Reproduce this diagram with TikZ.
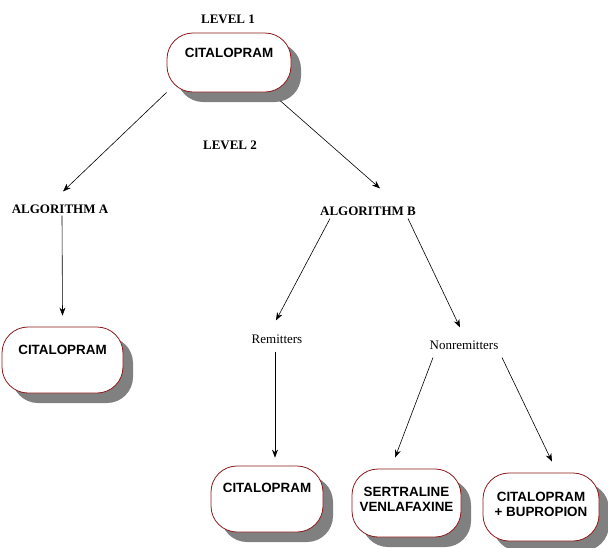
\documentclass[tikz,border=0pt]{standalone}
\usepackage{fontspec}
\setmainfont{Liberation Serif}
\newfontfamily\boxfont{Liberation Sans}
\usetikzlibrary{calc,shadows,arrows.meta}
\definecolor{boxred}{HTML}{8B1A1A}
\definecolor{shadowgray}{HTML}{808080}
\tikzset{
  box/.style={draw=boxred, line width=0.8pt, fill=white, rounded corners=26pt,
    inner sep=0pt,
    drop shadow={shadow xshift=10pt, shadow yshift=-10pt, fill=shadowgray, opacity=1}},
  lbl/.style={inner sep=0pt, font=\fontsize{13}{15}\selectfont\bfseries},
  plain/.style={inner sep=0pt, font=\fontsize{13}{15}\selectfont},
  arr/.style={-{Stealth[length=8pt,width=6pt]}, line width=0.6pt, black}
}
\newcommand{\boxtext}[4]{\parbox[c][#2pt][t]{#1pt}{\vspace*{#3pt}\centering\boxfont\fontsize{13.4}{15}\selectfont\bfseries #4\par}}
\begin{document}
\begin{tikzpicture}[x=1pt,y=-1pt]
\useasboundingbox (0,0) rectangle (608,547);
% boxes
\node[box] (top) at (229,62.5) {\boxtext{124}{59}{15.1}{CITALOPRAM}};
\node[box] (left) at (62.5,360) {\boxtext{121}{66}{18.1}{CITALOPRAM}};
\node[box] (bm) at (267,499) {\boxtext{112}{66}{17.1}{CITALOPRAM}};
\node[box] (sv) at (406.5,503) {\boxtext{109}{68}{18.1}{SERTRALINE\\VENLAFAXINE}};
\node[box] (cb) at (541,507) {\boxtext{116}{68}{19.1}{CITALOPRAM\\+ BUPROPION}};
% labels
\node[lbl] (l1) at (228,19) {LEVEL 1};
\node[lbl] (l2) at (230,145) {LEVEL 2};
\node[lbl] (algA) at (60,209) {ALGORITHM A};
\node[lbl] (algB) at (368,211) {ALGORITHM B};
\node[plain] (rem) at (277,339) {Remitters};
\node[plain] (nonrem) at (464,345) {Nonremitters};
% connectors
\draw[arr] (top.south west) -- ($(algA.north)+(3,-13)$);
\draw[arr] ($(top.south east)+(-11,8.5)$) -- ($(algB.north)+(12,-18)$);
\draw[arr] ($(algA.south)+(2,2)$) -- ($(left.north)+(0,-11)$);
\draw[arr] ($(algB.south)+(-38,3)$) -- ($(rem.north)+(-1,-14)$);
\draw[arr] ($(algB.south)+(40,3)$) -- ($(nonrem.north)+(-4,-13)$);
\draw[arr] ($(rem.south)+(-2,8)$) -- ($(bm.north)+(8,-8)$);
\draw[arr] ($(nonrem.south)+(-31,8)$) -- ($(sv.north)+(-11.5,-11)$);
\draw[arr] ($(nonrem.south)+(38,8)$) -- ($(cb.north)+(11,-11)$);
\end{tikzpicture}
\end{document}
